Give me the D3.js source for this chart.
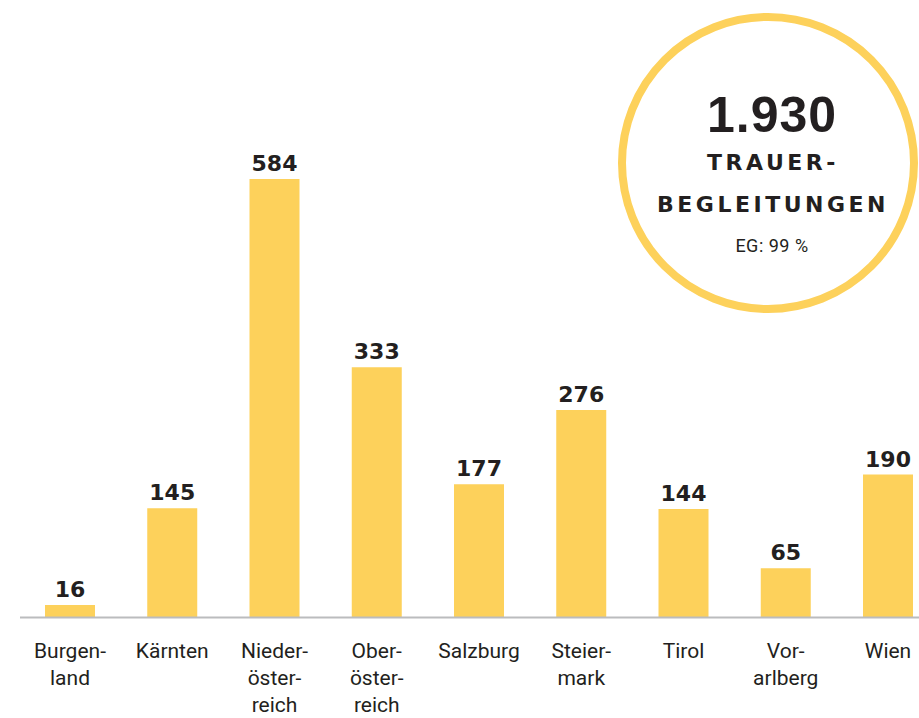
<!DOCTYPE html>
<html><head><meta charset="utf-8">
<script src="https://cdn.jsdelivr.net/npm/d3@7"></script>
<style>html,body{margin:0;padding:0;background:#fff;}svg{display:block;}</style>
</head><body>
<svg id="chart" width="919" height="718"></svg>
<script>
const categories = ["Burgenland","Kärnten","Niederösterreich","Oberösterreich","Salzburg","Steiermark","Tirol","Vorarlberg","Wien"];
const categoryLines = [["Burgen-","land"],["Kärnten"],["Nieder-","öster-","reich"],["Ober-","öster-","reich"],["Salzburg"],["Steier-","mark"],["Tirol"],["Vor-","arlberg"],["Wien"]];
const values = [16,145,584,333,177,276,144,65,190];
const totalValue = "1.930";
const totalLines = ["TRAUER-","BEGLEITUNGEN"];
const subLabel = "EG: 99 %";

const svg = d3.select("#chart");
const baseY = 617;
const x = d3.scalePoint().domain(categories).range([70, 888]);
const y = d3.scaleLinear().domain([0, 584]).range([baseY, 179]);
const barW = 50;
const yellow = "#fdd15b";
const ink = "#231f20";

svg.selectAll("rect.bar").data(values).join("rect")
  .attr("class","bar")
  .attr("x",(d,i)=>x(categories[i]) - barW/2)
  .attr("y",d=>y(d))
  .attr("width",barW)
  .attr("height",d=>baseY - y(d))
  .attr("fill",yellow);

svg.append("line").attr("x1",20).attr("x2",919).attr("y1",baseY+0.5).attr("y2",baseY+0.5)
  .attr("stroke","#bbbcbe").attr("stroke-width",2);

svg.selectAll("text.val").data(values).join("text")
  .attr("class","val")
  .attr("x",(d,i)=>x(categories[i]))
  .attr("y",d=>y(d) - 8)
  .attr("text-anchor","middle")
  .attr("font-family","DejaVu Sans")
  .attr("font-weight","bold")
  .attr("font-size",22)
  .attr("fill",ink)
  .text(d=>d);

const lab = svg.selectAll("text.cat").data(categoryLines).join("text")
  .attr("class","cat")
  .attr("text-anchor","middle")
  .attr("font-family","Roboto")
  .attr("font-size",21)
  .attr("fill",ink);
lab.each(function(lines,i){
  d3.select(this).selectAll("tspan").data(lines).join("tspan")
    .attr("x",x(categories[i]))
    .attr("y",(l,j)=>658 + j*27)
    .text(l=>l);
});

// circle
const cx = 768, cy = 163;
svg.append("circle").attr("cx",cx).attr("cy",cy).attr("r",146)
  .attr("fill","#fff").attr("stroke",yellow).attr("stroke-width",8);
svg.append("text").attr("x",cx+4).attr("y",132).attr("text-anchor","middle")
  .attr("font-family","Liberation Sans").attr("font-weight","bold").attr("font-size",50)
  .attr("letter-spacing","1px").attr("fill",ink).text(totalValue);
svg.selectAll("text.tl").data(totalLines).join("text")
  .attr("class","tl")
  .attr("x",cx+5).attr("y",(d,i)=>170 + i*42)
  .attr("text-anchor","middle")
  .attr("font-family","DejaVu Sans").attr("font-weight","bold").attr("font-size",22)
  .attr("letter-spacing","3.5px").attr("fill",ink).text(d=>d);
svg.append("text").attr("x",cx+4).attr("y",252).attr("text-anchor","middle")
  .attr("font-family","Roboto").attr("font-size",18).attr("letter-spacing","0.5px")
  .attr("fill",ink).text(subLabel);
</script>
</body></html>
